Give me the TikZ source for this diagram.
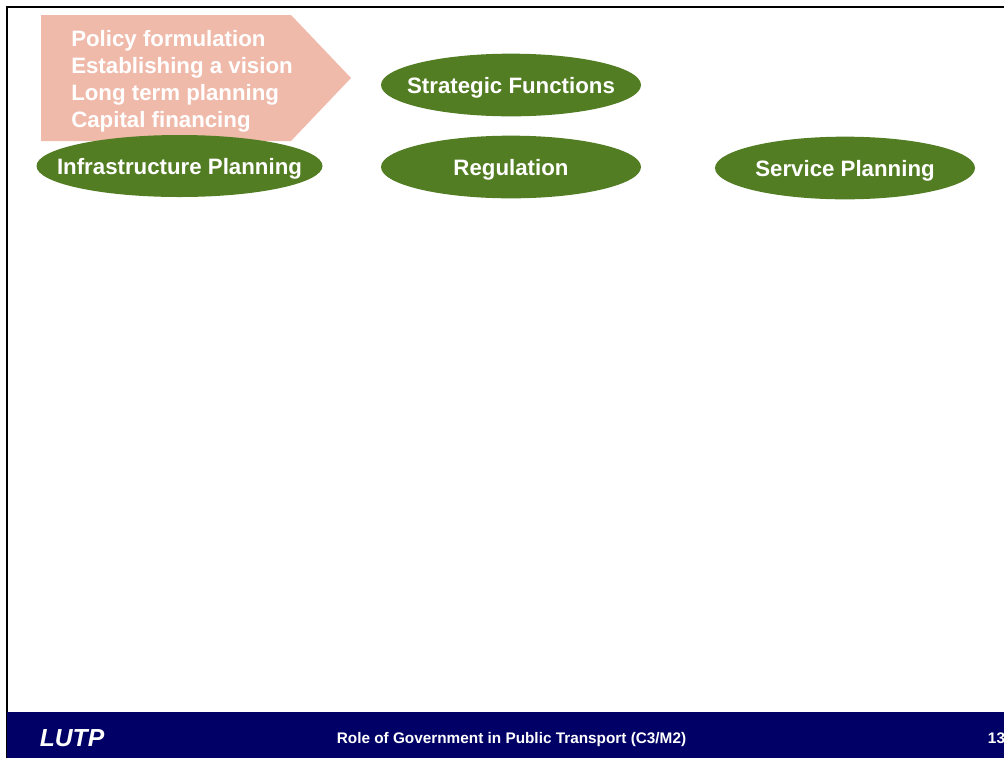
\documentclass[tikz,border=0pt]{standalone}
\usepackage{fontspec}
\setmainfont{Liberation Sans}
\usepackage{tikz}
\usetikzlibrary{shapes.geometric}
\definecolor{leafgreen}{HTML}{537D23}
\definecolor{salmon}{HTML}{F0BAAA}
\definecolor{footblue}{HTML}{000066}

\begin{document}
\begin{tikzpicture}[x=.75pt, y=-.75pt]
  \tikzset{func node/.style={ellipse,fill=leafgreen,inner sep=0pt,minimum width=195pt,minimum height=47pt}}
  \tikzset{func text/.style={text=white,inner sep=0pt,yshift=-2pt,font=\bfseries\fontsize{16.7}{20}\selectfont}}
  \tikzset{list node/.style={text=white,align=left,anchor=north west,inner sep=0pt,font=\bfseries\fontsize{16.7}{20.3}\selectfont}}
  \tikzset{foot node/.style={text=white,inner sep=0pt,font=\bfseries\fontsize{11.5}{13}\selectfont}}

  \useasboundingbox (0, 0) rectangle (1004, 758);

  % frame and footer
  \draw[line width=1.5pt] (1004, 6.5) -- (6.5, 6.5) -- (6.5, 758);
  \path[fill=footblue] (7, 712) rectangle (1004, 758);

  \path[fill=salmon] (41, 15) -- (291, 15) -- (351, 78) -- (291, 141) -- (41, 141) -- cycle;

  \path
    (71, 30) node[list node](policy) {Policy formulation\\ Establishing a vision\\ Long term planning\\ Capital financing}
    (179.5, 166) node[func node, minimum width=214.5pt, minimum height=46.5pt,
                      label={[func text]center:Infrastructure Planning}](infra) {}
    (511, 85) node[func node, label={[func text]center:Strategic Functions}](strategic) {}
    (511, 167) node[func node, label={[func text]center:Regulation}](regulation) {}
    (845, 168) node[func node, label={[func text]center:Service Planning}](service) {}
    (72, 738) node[foot node, font=\bfseries\itshape\fontsize{18.5}{20}\selectfont](lutp) {LUTP}
    (511.5, 740) node[foot node](title) {Role of Government in Public Transport (C3/M2)}
    (996.5, 738) node[foot node](page) {13}
  ;
\end{tikzpicture}
\end{document}
